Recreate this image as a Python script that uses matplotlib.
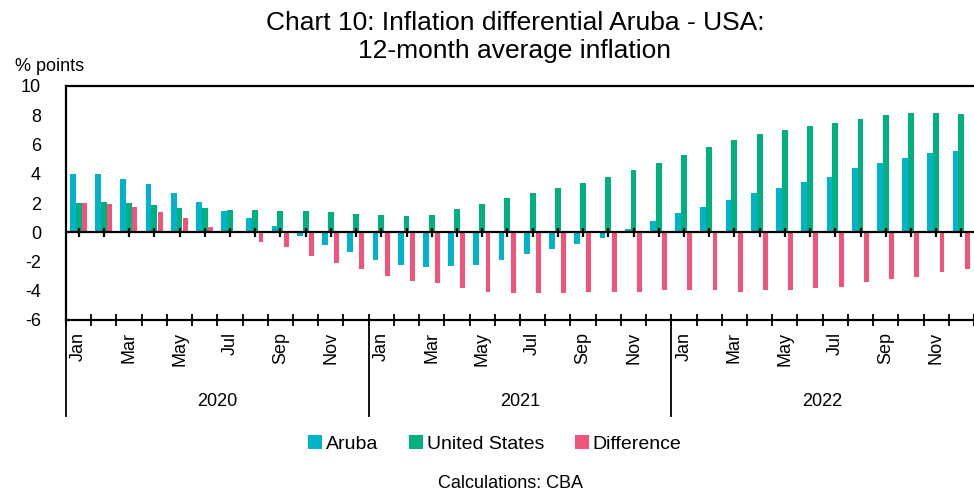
import numpy as np
import matplotlib.pyplot as plt
import matplotlib.transforms as mtransforms
from matplotlib import font_manager

# Data
months = ['Jan', 'Feb', 'Mar', 'Apr', 'May', 'Jun',
          'Jul', 'Aug', 'Sep', 'Oct', 'Nov', 'Dec']
years = ['2020', '2021', '2022']

aruba = [3.96, 3.96, 3.66, 3.28, 2.66, 2.05, 1.43, 0.96, 0.43, -0.27, -0.84, -1.37,
         -1.91, -2.25, -2.39, -2.34, -2.21, -1.91, -1.50, -1.16, -0.82, -0.36, 0.20, 0.77,
         1.30, 1.73, 2.18, 2.66, 3.05, 3.44, 3.75, 4.37, 4.76, 5.10, 5.42, 5.57]
usa = [1.98, 2.05, 1.98, 1.84, 1.66, 1.66, 1.52, 1.52, 1.43, 1.43, 1.37, 1.27,
       1.16, 1.11, 1.21, 1.57, 1.96, 2.37, 2.71, 3.05, 3.39, 3.80, 4.28, 4.76,
       5.26, 5.80, 6.28, 6.69, 6.99, 7.24, 7.46, 7.76, 7.99, 8.12, 8.12, 8.08]
diff = [1.98, 1.91, 1.71, 1.39, 0.98, 0.39, -0.05, -0.64, -1.00, -1.64, -2.12, -2.50,
        -2.98, -3.30, -3.50, -3.78, -4.07, -4.16, -4.12, -4.12, -4.07, -4.07, -4.07, -3.98,
        -3.98, -3.98, -4.07, -3.98, -3.94, -3.82, -3.71, -3.41, -3.23, -3.03, -2.73, -2.50]

c_aruba = '#00B2CA'
c_usa = '#00B080'
c_diff = '#F0547A'

names = {f.name for f in font_manager.fontManager.ttflist}
title_font = 'Liberation Sans Narrow' if 'Liberation Sans Narrow' in names else 'Liberation Sans'
plt.rcParams['font.family'] = ['Liberation Sans', 'DejaVu Sans']
plt.rcParams['axes.unicode_minus'] = False

fig = plt.figure(figsize=(9.74, 4.96), dpi=100)
ax = fig.add_axes([66 / 974, 1 - 320 / 496, 1 - 66 / 974, (320 - 86) / 496])

n = len(aruba)
x = np.arange(n)
w = 0.23
ax.bar(x - w, aruba, w, color=c_aruba, label='Aruba')
ax.bar(x, usa, w, color=c_usa, label='United States')
ax.bar(x + w, diff, w * 0.85, color=c_diff, label='Difference')

ax.set_xlim(-0.5, n - 0.5)
ax.set_ylim(-6, 10)
ax.set_yticks(np.arange(-6, 11, 2))
ax.tick_params(axis='y', length=0, pad=18, labelsize=13)

# zero line with small ticks at category centres
ax.axhline(0, color='black', lw=1.6, zorder=3)
ax.vlines(x, -0.3, 0.3, color='black', lw=1.6, zorder=3)

# bottom axis ticks at category boundaries
ax.set_xticks(np.arange(n + 1) - 0.5)
ax.set_xticklabels([])
ax.tick_params(axis='x', length=8, direction='inout', width=1.3)

for s in ['top', 'left', 'bottom']:
    ax.spines[s].set_linewidth(1.6)
ax.spines['right'].set_visible(False)

# month labels and year groups
trans = mtransforms.blended_transform_factory(ax.transData, ax.transAxes)
for i in range(n):
    m = months[i % 12]
    if i % 2 == 0:
        ax.text(i, -0.05, m, rotation=90, ha='center', va='top',
                fontsize=13, transform=trans)
for k, yr in enumerate(years):
    ax.plot([k * 12 - 0.5, k * 12 - 0.5], [0, -0.41], color='black', lw=1.3,
            transform=trans, clip_on=False)
    ax.text(k * 12 + 5.5, -0.35, yr, ha='center', va='center',
            fontsize=13, transform=trans)

fig.text(15 / 974, 1 - 67 / 496, '% points', ha='left', va='center', fontsize=13)
fig.text(515 / 974, 1 - 37 / 496,
         'Chart 10: Inflation differential Aruba - USA:\n12-month average inflation',
         ha='center', va='center', fontsize=19, family=title_font, linespacing=1.25)

fig.legend(loc='center', bbox_to_anchor=(495 / 974, 1 - 444 / 496), ncol=3,
           frameon=False, fontsize=14, handlelength=0.7, handleheight=0.7,
           handletextpad=0.2, columnspacing=1.6)
fig.text(510 / 974, 1 - 483 / 496, 'Calculations: CBA', ha='center', va='center',
         fontsize=13)

plt.savefig('out.png', dpi=100)
